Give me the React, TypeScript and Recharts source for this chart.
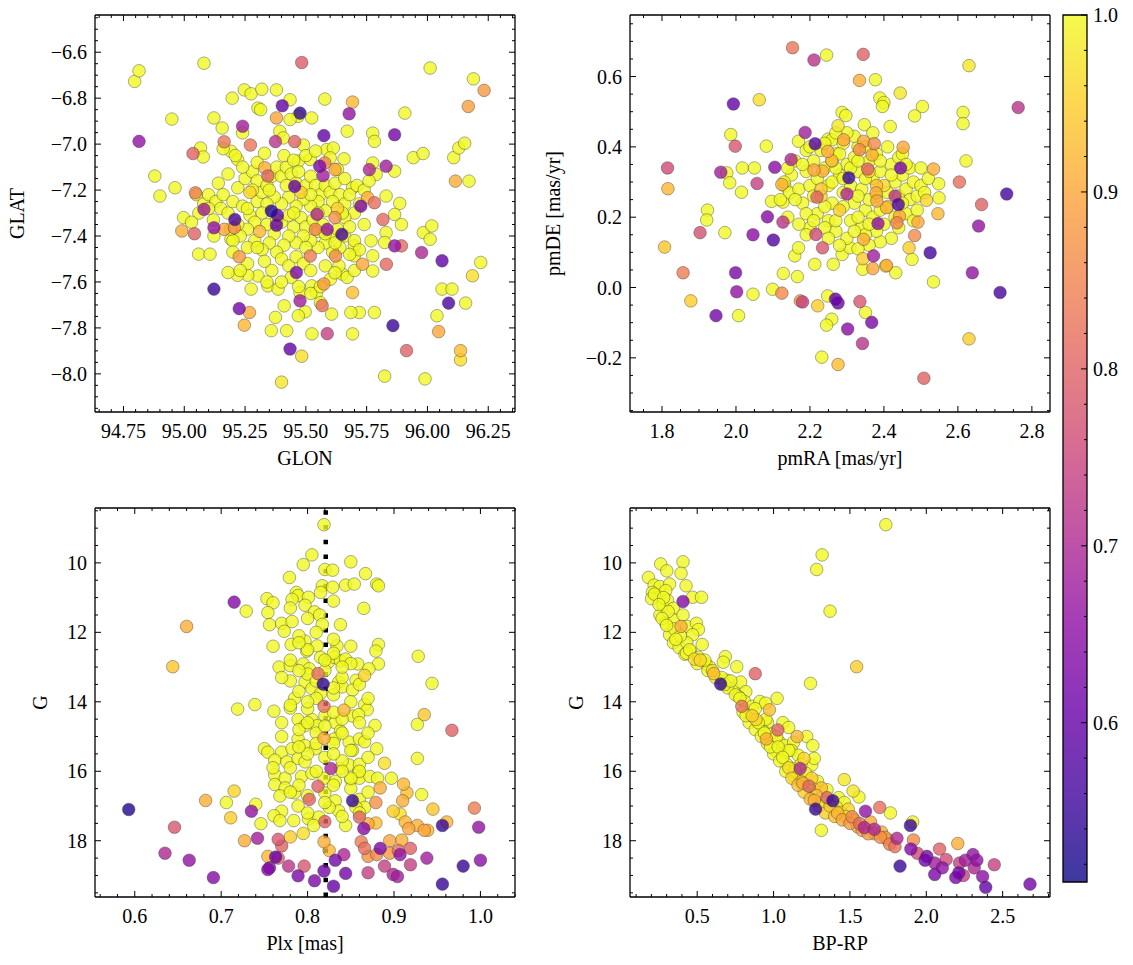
import React from 'react';
import { ScatterChart, Scatter, XAxis, YAxis, ReferenceLine, ReferenceArea } from 'recharts';

const FONT = '"Liberation Serif", "Times New Roman", serif';
const FS = 20;

// membership probability colour scale
const P_MIN = 0.51;
const P_MAX = 1.0;
const PLASMA = ['#0d0887', '#41049d', '#6a00a8', '#8f0da4', '#b12a90', '#cc4778', '#e16462', '#f2844b', '#fca636', '#fcce25', '#f0f921'];

// [GLON, GLAT, prob]
const skyStars = [
  [94.796,-6.727,1],[94.814,-6.681,1],[95.081,-6.648,1],[95.483,-6.645,0.79],[96.011,-6.669,1],[96.189,-6.716,1],[96.233,-6.766,0.88],[96.168,-6.836,0.89],
  [95.907,-6.865,1],[95.692,-6.817,0.92],[95.578,-6.804,1],[95.678,-6.868,0.66],[95.865,-6.959,0.62],[95.775,-6.952,1],[95.782,-6.988,1],[95.67,-6.944,1],
  [95.476,-6.865,0.54],[95.403,-6.833,0.6],[95.379,-6.886,0.9],[95.574,-6.963,0.6],[95.454,-6.989,0.8],[95.375,-6.989,0.72],[95.24,-6.922,0.68],[95.272,-7.004,0.83],
  [95.164,-6.99,0.83],[95.036,-7.041,0.8],[94.814,-6.988,0.66],[94.949,-6.891,1],[95.122,-6.886,1],[94.879,-7.139,1],[94.9,-7.226,1],[94.962,-7.19,1],
  [94.997,-7.32,1],[94.99,-7.378,0.91],[95.042,-7.39,0.8],[95.046,-7.212,0.84],[95.081,-7.284,0.68],[95.122,-7.364,0.66],[95.208,-7.328,0.57],[95.122,-7.631,0.55],
  [95.226,-7.716,0.62],[95.268,-7.733,0.91],[95.247,-7.788,0.92],[95.226,-7.49,0.88],[95.358,-7.291,0.53],[95.383,-7.31,0.6],[95.379,-7.353,0.6],[95.454,-7.184,0.6],
  [95.344,-7.139,0.8],[95.331,-7.103,0.91],[95.557,-7.096,0.63],[95.571,-7.137,0.68],[95.578,-7.082,0.85],[95.62,-7.111,0.9],[95.761,-7.111,0.7],[95.83,-7.096,0.68],
  [95.546,-7.306,0.7],[95.588,-7.371,0.66],[95.539,-7.371,0.85],[95.62,-7.32,0.87],[95.648,-7.393,0.56],[95.726,-7.27,0.63],[95.782,-7.255,0.82],[95.754,-7.233,0.91],
  [95.817,-7.328,0.81],[95.865,-7.443,0.66],[95.893,-7.443,0.81],[95.831,-7.523,0.81],[95.976,-7.472,0.7],[96.06,-7.508,0.6],[96.087,-7.692,0.57],[95.858,-7.79,0.55],
  [95.914,-7.899,0.8],[96.046,-7.816,0.9],[96.136,-7.899,0.93],[96.136,-7.939,0.97],[96.219,-7.515,1],[96.185,-7.573,0.97],[96.157,-7.692,1],[96.115,-7.161,0.91],
  [96.171,-7.161,1],[96.108,-7.059,1],[96.129,-7.017,1],[96.153,-6.996,1],[95.942,-7.059,1],[95.982,-7.041,1],[95.983,-7.385,1],[96.018,-7.356,1],
  [96.011,-7.414,1],[96.06,-7.631,1],[96.101,-7.631,1],[96.039,-7.747,1],[95.99,-8.022,1],[95.824,-8.01,1],[95.4,-8.036,0.98],[95.483,-7.923,0.97],
  [95.435,-7.892,0.6],[95.588,-7.825,0.74],[95.567,-7.703,0.82],[95.476,-7.682,0.68],[95.461,-7.559,0.63],[95.574,-7.609,0.88],[95.518,-7.487,0.84],[95.622,-7.487,0.86],
  [95.733,-7.523,0.9],[95.692,-7.646,0.93],[95.692,-7.826,1],[95.72,-7.733,1],[95.685,-7.733,1],[95.782,-7.733,1],[95.525,-7.826,1],[95.358,-7.812,1],
  [95.421,-7.812,1],[95.375,-7.754,1],[95.411,-7.704,1],[95.344,-7.617,1],[95.386,-7.631,1],[95.275,-7.631,1],[95.303,-7.574,1],[95.261,-7.571,1],
  [95.219,-7.571,1],[95.18,-7.559,1],[95.059,-7.479,1],[95.106,-7.479,1],[95.192,-7.414,1],[95.122,-7.4,1],[95.164,-7.371,0.9],[95.206,-7.364,0.86],
  [95.197,-6.8,1],[95.247,-6.764,1],[95.275,-6.781,1],[95.319,-6.761,1],[95.379,-6.764,1],[95.435,-6.807,1],[95.303,-6.843,1],[95.314,-6.85,1],
  [95.468,-6.879,1],[95.524,-6.886,1],[95.435,-6.893,1],[95.24,-6.951,1],[95.393,-6.944,1],[95.407,-6.973,1],[95.156,-6.93,1],[95.067,-7.017,1],
  [95.078,-7.056,1],[95.192,-7.031,1],[95.219,-7.067,1],[95.49,-7.004,1],[95.469,-7.074,1],[95.518,-7.067,1],[95.585,-7.024,1],[95.613,-7.017,1],
  [95.657,-7.064,1],[95.692,-7.19,1],[95.775,-7.082,1],[95.789,-7.132,1],[95.865,-7.118,1],[95.83,-7.226,1],[95.886,-7.258,1],[95.865,-7.306,1],
  [95.893,-7.35,1],[95.83,-7.385,1],[95.824,-7.428,1],[95.768,-7.421,1],[95.775,-7.486,1],[95.775,-7.552,1],[95.699,-7.443,1],[95.699,-7.486,1],
  [95.65,-7.566,1],[95.636,-7.53,1],[95.601,-7.588,1],[95.606,-7.74,1],[95.524,-7.617,1],[95.544,-7.646,1],[95.497,-7.73,1],[95.469,-7.747,1],[95.476,-7.646,1],
];

// cluster core, [GLON, GLAT, prob]
const skyCore = [
  [95.05,-7.22,1],[95.08,-7.26,1],[95.06,-7.3,1],[95.03,-7.34,1],[95.1,-7.22,1],[95.13,-7.25,1],[95.16,-7.22,1],[95.15,-7.28,1],[95.12,-7.33,1],[95.18,-7.3,1],
  [95.2,-7.25,1],[95.22,-7.19,1],[95.25,-7.15,1],[95.28,-7.12,1],[95.3,-7.16,1],[95.27,-7.21,0.96],[95.24,-7.27,1],[95.27,-7.31,1],[95.3,-7.25,1],[95.32,-7.21,1],
  [95.34,-7.18,1],[95.36,-7.14,1],[95.38,-7.1,1],[95.4,-7.14,1],[95.42,-7.1,1],[95.44,-7.13,1],[95.46,-7.17,1],[95.48,-7.21,0.95],[95.5,-7.18,1],[95.52,-7.14,1],
  [95.54,-7.18,1],[95.56,-7.22,1],[95.58,-7.18,1],[95.6,-7.21,1],[95.62,-7.17,1],[95.64,-7.22,1],[95.66,-7.26,1],[95.68,-7.22,1],[95.71,-7.18,1],[95.74,-7.2,1],
  [95.76,-7.16,1],[95.72,-7.26,1],[95.7,-7.3,1],[95.66,-7.32,1],[95.63,-7.28,0.95],[95.61,-7.25,1],[95.58,-7.29,1],[95.55,-7.25,1],[95.52,-7.27,1],[95.49,-7.24,1],
  [95.46,-7.27,1],[95.43,-7.23,1],[95.4,-7.26,1],[95.37,-7.23,1],[95.34,-7.26,1],[95.32,-7.3,1],[95.29,-7.34,1],[95.26,-7.37,1],[95.31,-7.38,0.92],[95.34,-7.35,1],
  [95.37,-7.39,1],[95.4,-7.34,1],[95.43,-7.31,1],[95.45,-7.36,1],[95.48,-7.32,1],[95.5,-7.36,1],[95.53,-7.33,1],[95.55,-7.38,1],[95.57,-7.35,1],[95.6,-7.4,1],
  [95.63,-7.37,1],[95.66,-7.4,1],[95.68,-7.36,1],[95.7,-7.42,1],[95.72,-7.46,1],[95.68,-7.48,1],[95.64,-7.45,1],[95.61,-7.47,1],[95.58,-7.43,1],[95.55,-7.45,1],
  [95.52,-7.42,1],[95.49,-7.4,1],[95.46,-7.43,1],[95.43,-7.4,1],[95.41,-7.44,1],[95.38,-7.47,1],[95.35,-7.43,1],[95.32,-7.46,1],[95.29,-7.42,1],[95.26,-7.45,1],
  [95.23,-7.4,1],[95.2,-7.42,1],[95.22,-7.35,1],[95.19,-7.37,1],[95.4,-7.5,1],[95.43,-7.53,1],[95.46,-7.49,1],[95.49,-7.52,1],[95.52,-7.55,1],[95.44,-7.58,1],
  [95.47,-7.62,1],[95.52,-7.65,1],[95.56,-7.62,1],[95.58,-7.53,1],[95.62,-7.56,1],[95.67,-7.58,1],[95.36,-7.55,1],[95.4,-7.6,1],[95.33,-7.51,1],[95.26,-7.52,1],
  [95.23,-7.55,1],[95.3,-7.08,1],[95.33,-7.04,1],[95.41,-7.05,1],[95.45,-7.07,1],[95.5,-7.05,1],[95.54,-7.03,1],[95.6,-7.06,1],[95.63,-7.11,1],[95.66,-7.15,1],
  [95.24,-7.1,1],[95.18,-7.13,1],[95.14,-7.17,1],[95.21,-7.05,1],[95.16,-7.02,1],
  [95.35,-7.2,1],[95.45,-7.3,1],[95.55,-7.3,1],[95.65,-7.3,1],[95.5,-7.45,1],[95.3,-7.45,1],[95.42,-7.18,1],[95.58,-7.39,1],[95.26,-7.28,1],[95.62,-7.43,1],
  [95.38,-7.33,1],[95.28,-7.2,1],[95.74,-7.35,1],[95.7,-7.55,1],[95.34,-7.6,1],[95.56,-7.69,1],[95.2,-7.47,1],[95.1,-7.28,1],[95.52,-7.22,1],[95.47,-7.12,1],
];

// [pmRA, pmDE, prob]
const pmStars = [
  [2.153,0.682,0.83],[2.211,0.647,0.72],[2.245,0.661,1],[2.344,0.663,0.8],[2.334,0.589,0.91],[2.377,0.591,1],[2.63,0.631,0.98],[1.993,0.522,0.6],
  [2.063,0.534,0.97],[2.763,0.512,0.72],[2.389,0.539,1],[2.4,0.526,1],[2.444,0.553,0.98],[2.396,0.515,1],[2.504,0.515,1],[2.483,0.488,1],
  [2.614,0.498,1],[2.614,0.466,1],[2.622,0.36,1],[2.287,0.498,1],[2.297,0.489,1],[2.276,0.46,0.98],[2.347,0.463,1],[2.417,0.458,1],
  [1.986,0.435,1],[2.187,0.441,0.68],[2.214,0.409,0.58],[1.998,0.402,0.78],[2.082,0.402,1],[2.169,0.416,1],[2.249,0.422,1],[1.815,0.34,0.76],
  [1.816,0.281,0.92],[1.807,0.115,0.94],[1.857,0.042,0.84],[1.878,-0.038,0.95],[1.946,-0.08,0.62],[1.903,0.156,0.77],[1.923,0.22,1],[1.921,0.192,1],
  [1.97,0.156,1],[1.959,0.328,0.68],[1.975,0.326,1],[1.983,0.298,1],[2.015,0.271,1],[2.017,0.34,1],[2.05,0.34,1],[2.057,0.296,0.74],
  [1.999,0.042,0.63],[2.002,-0.012,0.66],[2.007,-0.08,1],[2.046,-0.019,1],[2.099,-0.005,1],[2.124,-0.016,0.86],[2.174,-0.038,0.88],[2.18,-0.041,0.74],
  [2.221,-0.052,0.95],[2.248,-0.024,1],[2.269,-0.033,0.6],[2.276,-0.044,0.61],[2.259,-0.09,1],[2.245,-0.107,1],[2.302,-0.118,0.65],[2.335,-0.04,0.78],
  [2.35,-0.071,1],[2.367,-0.099,0.63],[2.342,-0.159,0.72],[2.232,-0.198,1],[2.276,-0.219,0.93],[2.508,-0.258,0.8],[2.63,-0.146,0.95],[2.534,0.016,1],
  [2.525,0.099,0.56],[2.639,0.042,0.66],[2.714,-0.014,0.57],[2.732,0.266,0.56],[2.656,0.175,0.66],[2.664,0.236,0.8],[2.604,0.3,0.82],[2.548,0.295,1],
  [2.549,0.255,1],[2.546,0.21,0.92],[2.515,0.248,0.96],[2.534,0.337,0.91],[2.492,0.186,0.9],[2.483,0.148,0.86],[2.476,0.08,1],[2.468,0.113,0.95],
  [2.432,0.042,1],[2.405,0.061,1],[2.445,0.34,0.63],[2.439,0.236,0.57],[2.43,0.26,0.72],[2.435,0.184,0.85],[2.442,0.203,0.9],[2.384,0.182,0.66],
  [2.372,0.09,0.68],[2.37,0.054,0.9],[2.345,0.137,0.91],[2.356,0.337,0.8],[2.334,0.392,0.86],[2.345,0.416,0.9],[2.374,0.409,0.86],[2.368,0.377,0.91],
  [2.452,0.399,0.9],[2.305,0.312,0.55],[2.3,0.266,0.7],[2.219,0.257,0.8],[2.216,0.151,0.76],[2.234,0.113,0.78],[2.149,0.364,0.7],[2.105,0.342,0.65],
  [2.085,0.201,0.64],[2.127,0.186,0.72],[2.101,0.135,0.58],[2.046,0.15,0.65],[2.124,0.293,0.91],[2.211,0.334,0.9],[2.234,0.331,0.91],[2.248,0.387,0.91],
  [2.259,0.361,0.92],[2.291,0.42,0.9],[2.379,0.269,0.91],[2.381,0.246,0.9],[2.407,0.227,0.91],[2.343,0.082,0.95],[2.407,0.063,0.9],[2.128,0.04,1],
  [2.166,0.031,1],[2.159,0.09,1],[2.169,0.113,1],[2.213,0.066,1],[2.263,0.066,1],[2.287,0.094,1],[2.308,0.113,1],[2.343,0.052,1],
  [2.096,0.245,1],[2.127,0.243,1],[2.132,0.289,1],[2.145,0.269,1],
];

// cluster core, [pmRA, pmDE, prob]
const pmCore = [
  [2.15,0.32,1],[2.17,0.28,1],[2.19,0.33,1],[2.18,0.24,1],[2.2,0.29,1],[2.21,0.36,1],[2.22,0.31,1],[2.23,0.26,0.96],[2.22,0.21,1],[2.24,0.34,1],
  [2.25,0.29,1],[2.26,0.24,1],[2.25,0.19,1],[2.27,0.38,1],[2.28,0.32,1],[2.29,0.27,1],[2.28,0.22,0.95],[2.3,0.35,1],[2.31,0.29,1],[2.32,0.24,1],
  [2.31,0.19,1],[2.33,0.4,1],[2.33,0.33,1],[2.34,0.28,1],[2.35,0.22,1],[2.34,0.17,1],[2.36,0.36,1],[2.37,0.31,1],[2.38,0.26,1],[2.37,0.2,1],
  [2.39,0.33,1],[2.4,0.29,0.96],[2.41,0.23,1],[2.4,0.18,1],[2.42,0.35,1],[2.43,0.3,1],[2.44,0.26,1],[2.45,0.32,1],[2.46,0.28,1],[2.47,0.34,1],
  [2.48,0.3,1],[2.47,0.25,1],[2.44,0.37,1],[2.45,0.38,1],[2.49,0.26,1],[2.5,0.34,1],[2.42,0.14,1],[2.39,0.13,1],[2.36,0.12,1],[2.33,0.11,1],
  [2.3,0.14,1],[2.27,0.16,1],[2.24,0.17,1],[2.2,0.17,1],[2.17,0.18,1],[2.14,0.2,1],[2.12,0.25,1],[2.13,0.3,1],[2.16,0.36,1],[2.19,0.39,1],
  [2.23,0.39,1],[2.26,0.42,1],[2.29,0.41,1],[2.32,0.43,1],[2.35,0.4,1],[2.38,0.38,1],[2.41,0.4,1],[2.21,0.26,1],[2.26,0.3,1],[2.31,0.34,1],
  [2.36,0.25,1],[2.41,0.27,1],[2.29,0.23,1],[2.24,0.23,1],[2.33,0.2,1],[2.38,0.16,1],[2.35,0.15,1],[2.43,0.2,1],[2.46,0.21,1],[2.48,0.19,1],
  [2.5,0.29,1],[2.52,0.31,1],[2.37,0.44,1],[2.3,0.44,1],[2.27,0.44,1],
  [2.16,0.25,1],[2.19,0.21,1],[2.23,0.28,0.94],[2.27,0.34,1],[2.32,0.37,1],[2.36,0.33,0.95],[2.39,0.22,1],[2.42,0.32,1],[2.45,0.24,1],[2.27,0.19,1],
  [2.21,0.19,1],[2.18,0.35,1],[2.14,0.34,1],[2.26,0.36,1],[2.29,0.31,1],[2.33,0.26,1],[2.35,0.31,1],[2.38,0.29,0.93],[2.32,0.16,1],[2.25,0.14,1],
  [2.28,0.12,1],[2.19,0.15,1],[2.36,0.18,1],[2.39,0.36,1],[2.44,0.17,1],[2.49,0.22,1],[2.51,0.27,1],[2.46,0.35,1],[2.2,0.4,1],[2.24,0.41,1],
  [2.28,0.38,1],[2.33,0.36,1],
];

// [Plx, G, prob]
const plxStars = [
  [0.819,8.9,1],[0.805,9.77,1],[0.795,10.05,1],[0.85,9.97,1],[0.82,10.19,1],[0.829,10.21,1],[0.867,10.31,1],[0.779,10.42,1],[0.844,10.64,1],[0.854,10.61,1],
  [0.88,10.61,1],[0.882,10.66,1],[0.817,10.66,1],[0.829,10.7,1],[0.715,11.13,0.64],[0.753,11.03,1],[0.76,11.15,1],[0.729,11.39,1],[0.787,10.85,1],[0.789,10.94,1],
  [0.782,11.05,1],[0.801,10.99,1],[0.797,11.22,1],[0.815,10.85,1],[0.865,11.31,1],[0.66,11.83,0.91],[0.644,12.99,0.94],[0.754,11.43,1],[0.756,11.78,1],[0.77,11.74,1],
  [0.782,11.69,1],[0.773,11.97,1],[0.808,11.41,1],[0.814,11.5,1],[0.817,11.77,1],[0.838,11.78,1],[0.781,12.35,1],[0.797,12.25,1],[0.799,12.54,1],[0.811,12.39,1],
  [0.815,12.72,1],[0.834,12.39,1],[0.882,12.35,1],[0.879,12.54,1],[0.928,12.69,1],[0.767,13.0,1],[0.78,12.96,1],[0.795,12.91,1],[0.802,13.05,1],[0.824,12.86,1],
  [0.831,12.72,1],[0.838,12.82,1],[0.844,12.77,1],[0.858,12.91,1],[0.882,12.91,1],[0.871,13.05,1],[0.866,13.24,0.96],[0.812,13.19,0.82],[0.818,13.49,0.54],[0.944,13.47,1],
  [0.797,13.43,1],[0.805,13.62,1],[0.815,13.76,1],[0.836,13.43,1],[0.84,13.57,1],[0.856,13.38,1],[0.852,13.66,1],[0.719,14.21,1],[0.739,14.08,1],[0.761,14.27,1],
  [0.78,14.18,1],[0.785,13.9,1],[0.819,14.13,0.82],[0.842,14.24,0.92],[0.866,14.08,1],[0.869,14.23,1],[0.852,14.41,1],[0.859,14.37,1],[0.935,14.37,0.94],[0.927,14.65,1],
  [0.878,14.68,1],[0.967,14.82,0.8],[0.819,15.05,0.91],[0.789,14.51,1],[0.797,14.69,1],[0.805,14.51,1],[0.811,14.69,1],[0.832,14.6,1],[0.838,14.84,1],[0.831,15.07,1],
  [0.789,15.07,1],[0.797,15.26,1],[0.809,15.35,1],[0.75,15.35,1],[0.754,15.45,1],[0.77,15.45,1],[0.782,15.35,1],[0.848,15.16,1],[0.86,15.07,1],[0.866,15.15,1],
  [0.852,15.4,1],[0.88,15.35,1],[0.927,15.63,1],[0.762,15.68,1],[0.776,15.73,1],[0.789,15.63,1],[0.797,15.73,1],[0.827,15.92,0.7],[0.838,15.92,1],[0.848,15.82,1],
  [0.859,16.01,1],[0.889,15.77,0.97],[0.762,16.1,1],[0.774,16.2,1],[0.793,16.15,1],[0.805,16.06,1],[0.819,16.2,1],[0.832,16.29,1],[0.85,16.24,1],[0.86,16.2,1],
  [0.872,16.15,1],[0.881,16.2,1],[0.897,16.2,1],[0.911,16.37,0.92],[0.915,16.62,0.93],[0.932,16.67,1],[0.884,16.48,0.91],[0.879,16.9,0.87],[0.91,16.85,0.91],[0.852,16.85,0.55],
  [0.812,16.43,0.8],[0.802,16.81,0.8],[0.762,16.38,1],[0.774,16.48,1],[0.768,16.71,1],[0.785,16.62,1],[0.789,17.0,1],[0.82,16.62,1],[0.832,16.85,1],[0.836,17.14,1],
  [0.825,17.04,1],[0.86,16.81,1],[0.866,17.04,1],[0.856,17.04,1],[0.682,16.84,0.91],[0.706,16.9,1],[0.715,16.57,0.96],[0.711,17.34,0.95],[0.74,16.95,1],[0.735,17.15,0.66],
  [0.593,17.1,0.53],[0.646,17.61,0.78],[0.77,17.15,1],[0.761,17.28,1],[0.768,17.42,1],[0.784,17.42,1],[0.801,17.37,1],[0.813,17.32,1],[0.807,17.56,1],[0.86,17.32,0.8],
  [0.87,17.51,0.9],[0.879,17.49,0.93],[0.899,17.15,0.95],[0.907,17.23,0.97],[0.913,17.46,0.92],[0.917,17.65,0.9],[0.927,17.56,0.91],[0.935,17.7,0.9],[0.939,17.7,0.92],[0.945,17.09,0.94],
  [0.961,17.46,0.92],[0.956,17.56,0.55],[0.993,17.06,0.84],[0.998,17.61,0.66],[0.865,17.65,0.64],[0.82,17.45,0.8],[0.844,17.56,1],[0.78,17.89,0.95],[0.795,17.79,0.97],[0.742,17.93,0.68],
  [0.727,18.0,0.91],[0.766,17.96,0.78],[0.77,18.15,0.8],[0.819,18.03,0.91],[0.825,18.28,0.92],[0.862,18.03,0.84],[0.866,18.22,0.82],[0.87,18.45,0.87],[0.884,18.22,0.63],[0.895,18.0,0.9],
  [0.909,17.98,0.91],[0.919,18.22,0.8],[0.895,18.36,0.88],[0.905,18.28,0.82],[0.907,18.4,0.66],[0.88,18.4,0.86],[0.919,18.69,0.74],[0.938,18.5,0.68],[0.98,18.73,0.55],[1.0,18.56,0.65],
  [0.956,19.25,0.55],[0.889,18.73,0.74],[0.899,18.97,0.7],[0.904,19.03,0.68],[0.87,18.92,0.74],[0.844,18.94,0.62],[0.842,18.4,0.7],[0.832,18.56,0.62],[0.83,19.31,0.6],[0.819,18.87,0.62],
  [0.808,19.15,0.63],[0.789,19.01,0.63],[0.796,18.73,0.78],[0.778,18.73,0.72],[0.756,18.78,0.64],[0.754,18.83,0.64],[0.763,18.47,0.61],[0.754,18.45,0.92],[0.766,18.5,0.8],[0.691,19.06,0.64],
  [0.663,18.56,0.66],[0.635,18.36,0.7],[0.746,17.51,1],
];

// cluster core, [Plx, G, prob]
const plxCore = [
  [0.79,12.1,1],[0.81,12.0,1],[0.83,12.2,1],[0.8,12.5,1],[0.78,12.8,1],[0.83,12.6,1],[0.85,12.9,1],[0.8,13.2,1],[0.82,13.1,1],[0.84,13.3,1],
  [0.86,13.5,1],[0.79,13.7,1],[0.81,13.9,1],[0.83,13.8,1],[0.85,14.0,1],[0.8,14.2,1],[0.82,14.4,1],[0.84,14.5,1],[0.86,14.6,1],[0.79,14.8,1],
  [0.81,14.9,1],[0.83,15.2,1],[0.85,15.4,1],[0.8,15.5,1],[0.82,15.6,1],[0.84,15.7,1],[0.86,15.8,1],[0.78,15.9,1],[0.81,16.0,1],[0.83,16.4,1],
  [0.85,16.5,1],[0.87,16.6,1],[0.8,16.7,1],[0.77,14.6,1],[0.77,15.0,1],[0.78,13.4,1],[0.76,12.4,1],[0.87,13.9,1],[0.87,15.6,1],[0.84,17.3,1],
  [0.8,17.2,1],[0.86,16.0,1],[0.82,14.7,1],[0.8,14.0,1],[0.83,14.3,1],
  [0.79,12.3,1],[0.82,12.8,1],[0.84,13.0,1],[0.81,13.4,1],[0.83,13.6,1],[0.78,14.1,1],[0.8,14.6,1],[0.84,14.9,1],[0.81,15.2,1],[0.79,15.3,1],
  [0.83,15.5,1],[0.85,16.2,1],[0.79,16.4,1],[0.82,16.9,1],[0.86,17.2,1],[0.78,16.6,1],[0.84,16.0,1],[0.87,14.9,1],[0.76,15.9,1],[0.85,12.4,1],
  [0.8,11.6,1],[0.78,11.3,1],[0.83,11.1,1],[0.79,13.1,1],[0.77,13.3,1],
];

// [BP-RP, G, prob]
const cmdStars = [
  [1.735,8.9,1],[1.318,9.77,1],[1.282,10.19,1],[1.37,11.39,1],[1.544,12.99,0.95],[1.242,13.47,1],[0.88,13.19,0.8],[0.653,13.49,0.54],[0.407,11.11,0.64],[0.394,11.83,0.91],
  [0.792,14.13,0.82],[1.028,14.81,0.8],[0.953,15.07,0.91],[1.154,15.0,0.92],[1.174,15.92,0.7],[1.232,16.43,0.8],[1.192,16.34,0.91],[1.275,17.09,0.55],[1.313,17.7,1],[1.388,16.85,0.55],
  [1.35,16.76,0.8],[1.267,16.84,0.91],[1.463,16.24,0.98],[1.521,16.57,0.98],[1.559,16.74,1],[1.602,17.15,0.66],[1.695,17.04,0.82],[1.765,17.2,1],[1.514,17.31,0.86],[1.564,17.51,0.82],
  [1.594,17.62,0.7],[1.66,17.67,0.7],[1.635,17.46,0.9],[1.707,17.75,0.91],[1.745,17.96,0.9],[1.808,17.93,0.7],[1.795,18.17,0.82],[1.896,17.56,0.55],[1.911,17.46,1],[1.916,17.98,0.86],
  [1.899,18.24,0.64],[1.942,18.36,0.76],[2.004,18.45,0.63],[1.992,18.56,0.62],[2.055,18.64,0.68],[2.087,18.24,0.8],[2.206,18.08,0.91],[2.13,18.54,0.76],[2.105,18.78,0.66],[2.055,18.97,0.63],
  [1.828,18.73,0.55],[2.193,19.06,0.63],[2.213,18.92,0.62],[2.256,18.56,0.68],[2.306,18.4,0.66],[2.331,18.56,0.66],[2.314,18.78,0.7],[2.369,19.03,0.65],[2.389,19.34,0.6],[2.445,18.69,0.74],
  [2.679,19.25,0.62],[2.218,18.64,0.74],[2.243,19.0,0.74],
  [0.181,10.42,1],[0.261,10.03,1],[0.301,10.23,1],[0.407,9.97,1],[0.394,10.3,1],[0.427,10.66,1],[0.47,10.99,1],[0.528,10.99,1],[0.218,10.64,1],[0.256,10.68,1],
  [0.319,10.61,1],[0.206,10.85,1],[0.256,10.99,1],[0.294,10.8,1],[0.201,11.03,1],[0.276,11.22,1],[0.306,11.08,1],[0.344,11.31,1],[0.256,11.5,1],[0.294,11.74,1],
  [0.344,11.64,1],[0.407,11.5,1],[0.432,11.83,1],[0.495,11.74,1],[0.508,11.92,1],[0.47,12.07,1],[0.533,12.35,1],[0.319,12.07,1],[0.344,12.3,1],[0.382,12.44,1],
  [0.432,12.3,1],[0.457,12.54,1],[0.42,12.63,1],[0.482,12.77,0.97],[0.508,12.72,1],[0.558,12.91,1],[0.583,13.0,1],[0.608,13.19,0.93],[0.684,12.7,1],[0.671,12.86,1],
  [0.759,12.99,1],[0.696,13.38,1],[0.734,13.62,1],[0.784,13.43,1],[0.818,13.71,1],[0.772,13.85,1],[0.809,13.99,1],[1.023,13.9,1],[0.86,14.13,1],[0.91,13.99,1],
  [0.948,14.04,1],[0.973,14.23,0.93],[0.847,14.37,1],[0.885,14.51,0.96],[0.923,14.69,1],[0.96,14.6,1],[0.935,14.86,1],[0.986,14.93,1],[1.061,14.6,1],[1.099,14.74,1],
  [1.217,15.0,1],[1.257,15.26,1],[1.036,15.15,1],[1.074,15.26,1],[1.131,15.17,1],[1.011,15.4,1],[1.061,15.54,1],[1.117,15.4,1],[1.162,15.54,1],[1.199,15.63,0.96],
  [1.25,15.82,1],[1.267,15.63,1],[1.086,15.8,1],[1.136,15.92,1],[1.136,16.15,1],[1.174,16.2,1],[1.212,16.06,1],[1.25,16.2,0.95],[1.288,16.29,1],[1.313,16.48,0.93],
  [1.35,16.53,1],[1.426,16.76,1],[1.463,16.9,1],[1.413,17.04,1],[1.489,17.09,0.96],[1.438,17.18,1],
];

// main sequence band, [BP-RP, G, prob]
const cmdBand = [
  [0.22,10.9,1],[0.28,11.0,1],[0.31,11.4,1],[0.27,11.6,1],[0.35,11.9,1],[0.39,12.1,1],[0.43,12.6,1],[0.52,12.8,0.96],[0.57,13.1,1],[0.62,13.3,1],
  [0.66,13.3,1],[0.7,13.6,1],[0.75,13.8,1],[0.8,14.3,1],[0.84,14.6,1],[0.88,14.8,1],[0.92,15.0,1],[0.96,15.2,1],[1.0,15.5,1],[1.04,15.7,1],
  [1.08,16.0,1],[1.12,16.2,0.96],[1.16,16.4,0.93],[1.2,16.6,0.95],[1.24,16.8,0.92],[1.3,17.0,0.97],[1.34,17.2,0.95],[1.4,17.3,0.93],[1.45,17.4,0.9],[1.5,17.5,0.88],
  [1.55,17.6,0.9],[1.62,17.8,0.88],[1.7,17.9,0.87],[1.76,18.1,0.85],[0.88,14.2,1],[0.95,14.5,1],[1.02,15.0,1],[1.1,15.4,1],[1.18,15.8,1],[1.26,16.5,1],
  [0.25,11.2,1],[0.3,11.8,1],[0.36,12.2,1],[0.45,12.5,1],[0.5,12.9,1],[0.55,12.8,1],[0.6,13.1,0.97],[0.68,13.5,1],[0.72,13.4,1],[0.78,13.9,1],
  [0.82,14.4,1],[0.86,14.4,0.95],[0.9,14.6,1],[0.94,14.9,1],[0.98,15.3,1],[1.03,15.3,1],[1.06,15.6,1],[1.1,15.9,0.97],[1.14,16.0,1],[1.18,16.3,0.94],
  [1.22,16.4,1],[1.28,16.7,0.93],[1.32,16.9,1],[1.37,17.0,0.95],[1.42,17.2,0.92],[1.47,17.3,0.96],[1.53,17.4,0.91],[1.58,17.7,0.89],[1.66,17.8,0.9],[1.73,17.9,0.88],
];

// major tick labels
const glonMajor = [94.75, 95.0, 95.25, 95.5, 95.75, 96.0, 96.25];
const glatMajor = [-8.0, -7.8, -7.6, -7.4, -7.2, -7.0, -6.8, -6.6];
const pmraMajor = [1.8, 2.0, 2.2, 2.4, 2.6, 2.8];
const pmdeMajor = [-0.2, 0.0, 0.2, 0.4, 0.6];
const plxMajor = [0.6, 0.7, 0.8, 0.9, 1.0];
const gMajor = [10, 12, 14, 16, 18];
const bprpMajor = [0.5, 1.0, 1.5, 2.0, 2.5];
const probMajor = [0.6, 0.7, 0.8, 0.9, 1.0];

const PLX_CLUSTER = 0.821;

const toRgb = (h: string) => {
  const n = parseInt(h.slice(1), 16);
  return [(n >> 16) & 255, (n >> 8) & 255, n & 255];
};

function plasma(p: number) {
  const t = Math.min(1, Math.max(0, (p - P_MIN) / (P_MAX - P_MIN)));
  const s = t * 10;
  const i = Math.min(9, Math.floor(s));
  const f = s - i;
  const a = toRgb(PLASMA[i]);
  const b = toRgb(PLASMA[i + 1]);
  const c = a.map((v, k) => Math.round(v + (b[k] - v) * f));
  return `rgb(${c[0]},${c[1]},${c[2]})`;
}

const toPoints = (...lists: number[][][]) =>
  lists.flat().map(([x, y, p]) => ({ x, y, p })).sort((a, b) => b.p - a.p);

function tickSet(domain: number[], step: number) {
  const out: number[] = [];
  const start = Math.ceil(domain[0] / step - 1e-9);
  const end = Math.floor(domain[1] / step + 1e-9);
  for (let k = start; k <= end; k++) out.push(Number((k * step).toFixed(6)));
  return out;
}

const minus = (s: string) => s.replace('-', '\u2212');
const f1 = (v: number) => minus(v.toFixed(1));
const f2 = (v: number) => minus(v.toFixed(2));
const f0 = (v: number) => String(Math.round(v));

type Side = 'bottom' | 'top' | 'left' | 'right';

function axisTick(side: Side, majors: number[], step: number, fmt?: (v: number) => string) {
  return (props: any) => {
    const { x, y, payload } = props;
    const v = payload.value;
    const major = majors.some((m) => Math.abs(m - v) < step / 100);
    const len = major ? 6 : 3;
    let x2 = x;
    let y2 = y;
    if (side === 'bottom') y2 = y - len;
    if (side === 'top') y2 = y + len;
    if (side === 'left') x2 = x + len;
    if (side === 'right') x2 = x - len;
    let label = null;
    if (major && fmt) {
      const common = { fontFamily: FONT, fontSize: FS, fill: '#000', dominantBaseline: 'central' as const };
      if (side === 'bottom') label = <text x={x} y={y + 19} textAnchor="middle" {...common}>{fmt(v)}</text>;
      if (side === 'left') label = <text x={x - 8} y={y} textAnchor="end" {...common}>{fmt(v)}</text>;
      if (side === 'right') label = <text x={x + 6} y={y} textAnchor="start" {...common}>{fmt(v)}</text>;
    }
    return (
      <g>
        <line x1={x} y1={y} x2={x2} y2={y2} stroke="#000" strokeWidth={1} />
        {label}
      </g>
    );
  };
}

const AxisTitle = ({ tx, ty, text, rot }: any) => (
  <text
    x={tx}
    y={ty}
    textAnchor="middle"
    dominantBaseline="central"
    fontFamily={FONT}
    fontSize={FS}
    fill="#000"
    transform={rot ? `rotate(-90, ${tx}, ${ty})` : undefined}
  >
    {text}
  </text>
);

const Dot = (props: any) => {
  const { cx, cy, payload } = props;
  if (cx == null || cy == null) return null;
  return (
    <circle
      cx={cx}
      cy={cy}
      r={6.3}
      fill={plasma(payload.p)}
      fillOpacity={0.8}
      stroke="#3a3a3a"
      strokeOpacity={0.7}
      strokeWidth={0.6}
    />
  );
};

const NoDot = () => null;

const FRAME = { stroke: '#000', strokeWidth: 1.3 };

interface PanelProps {
  left: number;
  top: number;
  w: number;
  h: number;
  data: { x: number; y: number; p: number }[];
  xDomain: number[];
  yDomain: number[];
  xMajor: number[];
  yMajor: number[];
  xStep: number;
  yStep: number;
  xFmt: (v: number) => string;
  yFmt: (v: number) => string;
  xTitle: string;
  yTitle: string;
  yTitleX: number;
  reversed?: boolean;
  vline?: number;
}

function Panel(props: PanelProps) {
  const { left, top, w, h, data, xDomain, yDomain, xMajor, yMajor, xStep, yStep, xFmt, yFmt, xTitle, yTitle, yTitleX, reversed, vline } = props;
  const ML = 95;
  const MT = 15;
  const xTicks = tickSet(xDomain, xStep);
  const yTicks = tickSet(yDomain, yStep);
  const common = {
    type: 'number' as const,
    allowDataOverflow: true,
    interval: 0 as const,
    tickSize: 0,
    tickMargin: 0,
    tickLine: false,
    axisLine: FRAME,
  };
  return (
    <div style={{ position: 'absolute', left: left - ML, top: top - MT }}>
      <ScatterChart width={ML + w + 15} height={MT + h + 70} margin={{ top: MT - 1, right: 14, bottom: 0, left: 0 }}>
        <XAxis
          {...common}
          xAxisId="b"
          dataKey="x"
          domain={xDomain}
          ticks={xTicks}
          height={70}
          tick={axisTick('bottom', xMajor, xStep, xFmt)}
          label={<AxisTitle tx={ML + w / 2} ty={MT + h + 46} text={xTitle} />}
        />
        <XAxis
          {...common}
          xAxisId="t"
          orientation="top"
          dataKey="x"
          domain={xDomain}
          ticks={xTicks}
          height={1}
          tick={axisTick('top', xMajor, xStep)}
        />
        <YAxis
          {...common}
          yAxisId="l"
          dataKey="y"
          domain={yDomain}
          reversed={reversed}
          ticks={yTicks}
          width={ML}
          tick={axisTick('left', yMajor, yStep, yFmt)}
          label={<AxisTitle tx={yTitleX} ty={MT + h / 2} text={yTitle} rot />}
        />
        <YAxis
          {...common}
          yAxisId="r"
          orientation="right"
          dataKey="y"
          domain={yDomain}
          reversed={reversed}
          ticks={yTicks}
          width={1}
          tick={axisTick('right', yMajor, yStep)}
        />
        <Scatter xAxisId="b" yAxisId="l" data={data} shape={Dot} isAnimationActive={false} />
        <Scatter xAxisId="t" yAxisId="r" data={data} shape={NoDot} isAnimationActive={false} />
        {vline != null && (
          <ReferenceLine
            xAxisId="b"
            yAxisId="l"
            x={vline}
            stroke="#000"
            strokeWidth={4.5}
            strokeDasharray="4.5 10.2"
          />
        )}
      </ScatterChart>
    </div>
  );
}

function ColorBar() {
  const domain = [P_MIN, P_MAX];
  const ticks = tickSet(domain, 0.02);
  const size = { width: 89, height: 887 };
  const margin = { top: 10, right: 0, bottom: 10, left: 5 };
  return (
    <>
      <div style={{ position: 'absolute', left: 1058, top: 5 }}>
        <ScatterChart {...size} margin={margin}>
          <defs>
            <linearGradient id="plasmaBar" x1="0" y1="1" x2="0" y2="0">
              {PLASMA.map((c, i) => (
                <stop key={c} offset={`${i * 10}%`} stopColor={c} />
              ))}
            </linearGradient>
          </defs>
          <XAxis type="number" dataKey="x" domain={[0, 1]} hide allowDataOverflow />
          <YAxis type="number" dataKey="y" orientation="right" width={60} domain={domain} allowDataOverflow tick={false} axisLine={false} tickLine={false} />
          <ReferenceArea
            x1={0}
            x2={1}
            y1={P_MIN}
            y2={P_MAX}
            fill="url(#plasmaBar)"
            fillOpacity={0.8}
            stroke="#000"
            strokeWidth={1.3}
            ifOverflow="visible"
          />
          <Scatter data={[]} isAnimationActive={false} />
        </ScatterChart>
      </div>
      <div style={{ position: 'absolute', left: 1058, top: 5 }}>
        <ScatterChart {...size} margin={margin}>
          <XAxis type="number" dataKey="x" domain={[0, 1]} hide allowDataOverflow />
          <YAxis
            type="number"
            dataKey="y"
            orientation="right"
            width={60}
            domain={domain}
            allowDataOverflow
            ticks={ticks}
            interval={0}
            tickSize={0}
            tickMargin={0}
            tickLine={false}
            axisLine={false}
            tick={axisTick('right', probMajor, 0.02, f1)}
          />
          <Scatter data={[]} isAnimationActive={false} />
        </ScatterChart>
      </div>
    </>
  );
}

export default function App() {
  const sky = toPoints(skyStars, skyCore);
  const pm = toPoints(pmStars, pmCore);
  const plx = toPoints(plxStars, plxCore);
  const cmd = toPoints(cmdStars, cmdBand);
  return (
    <div style={{ position: 'absolute', left: 0, top: 0, width: 1133, height: 965, background: '#fff' }}>
      <Panel
        left={95} top={15} w={420} h={397} data={sky}
        xDomain={[94.633, 96.36]} yDomain={[-8.166, -6.438]}
        xMajor={glonMajor} yMajor={glatMajor} xStep={0.05} yStep={0.05}
        xFmt={f2} yFmt={f1} xTitle="GLON" yTitle="GLAT" yTitleX={17}
      />
      <Panel
        left={630} top={15} w={420} h={397} data={pm}
        xDomain={[1.7135, 2.849]} yDomain={[-0.354, 0.775]}
        xMajor={pmraMajor} yMajor={pmdeMajor} xStep={0.05} yStep={0.05}
        xFmt={f1} yFmt={f1} xTitle="pmRA [mas/yr]" yTitle="pmDE [mas/yr]" yTitleX={18}
      />
      <Panel
        left={95} top={508} w={420} h={389} data={plx}
        xDomain={[0.554, 1.04]} yDomain={[8.42, 19.62]} reversed
        xMajor={plxMajor} yMajor={gMajor} xStep={0.02} yStep={0.5}
        xFmt={f1} yFmt={f0} xTitle="Plx [mas]" yTitle="G" yTitleX={40}
        vline={PLX_CLUSTER}
      />
      <Panel
        left={630} top={508} w={420} h={389} data={cmd}
        xDomain={[0.06, 2.81]} yDomain={[8.42, 19.62]} reversed
        xMajor={bprpMajor} yMajor={gMajor} xStep={0.1} yStep={0.5}
        xFmt={f1} yFmt={f0} xTitle="BP-RP" yTitle="G" yTitleX={41}
      />
      <ColorBar />
    </div>
  );
}
